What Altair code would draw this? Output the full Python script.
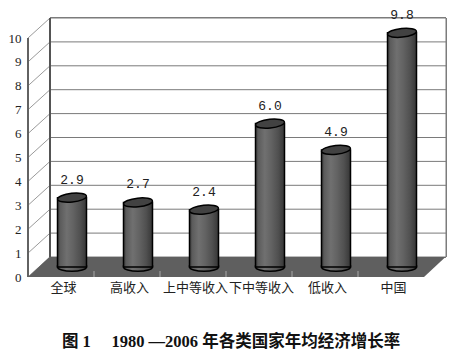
import json
import altair as alt
import pandas as pd

# ---- data ----
categories = ["全球", "高收入", "上中等收入", "下中等收入", "低收入", "中国"]
values = [2.9, 2.7, 2.4, 6.0, 4.9, 9.8]
y_ticks = list(range(0, 11))
title_text = "图 1　 1980 —2006 年各类国家年均经济增长率"

# ---- layout constants (pixels) ----
W, H = 406, 239          # front-plane plot size
DX, DY = 22, -20         # depth offset of the back wall
N = len(categories)
YMAX = 10

df = pd.DataFrame({"cat": categories, "value": values,
                   "pos": [i + 0.5 for i in range(N)]})
back_grid = pd.DataFrame({"v": y_ticks[1:-1]})
side_grid = pd.DataFrame({"v": y_ticks})
bounds = pd.DataFrame({"b": list(range(1, N))})

# floor parallelogram expressed in scale units
dxu = DX / (W / N)
dyu = -DY / (H / YMAX)
floor = pd.DataFrame({"fx": [0, dxu, N, N + dxu],
                      "lo": [0, 0, 0, dyu],
                      "hi": [0, dyu, dyu, dyu]})

xs = alt.Scale(domain=[0, N], nice=False, zero=False)
ys = alt.Scale(domain=[0, YMAX], nice=False, zero=False)

label_expr = json.dumps(categories, ensure_ascii=False) + "[floor(datum.value)]"
x_axis = alt.Axis(values=[i + 0.5 for i in range(N)], labelExpr=label_expr,
                  ticks=False, domain=False, grid=False, title=None,
                  labelFont="Noto Sans CJK SC", labelFontSize=13,
                  labelColor="#222222", labelPadding=4, labelOffset=2,
                  labelFlush=False, labelOverlap=False)
y_axis = alt.Axis(values=y_ticks, ticks=False, domain=False, grid=False,
                  title=None, labelFont="Liberation Serif", labelFontSize=13,
                  labelColor="#222222", labelPadding=2, labelFlush=False,
                  labelOverlap=False)


def X(field=None, datum=None):
    if datum is not None:
        return alt.X(datum=datum, type="quantitative", scale=xs, axis=x_axis)
    return alt.X(field, type="quantitative", scale=xs, axis=x_axis)


def Y(field=None, datum=None):
    if datum is not None:
        return alt.Y(datum=datum, type="quantitative", scale=ys, axis=y_axis)
    return alt.Y(field, type="quantitative", scale=ys, axis=y_axis)


grad = alt.Gradient(
    gradient="linear", x1=0, x2=1, y1=0, y2=0,
    stops=[alt.GradientStop(offset=0.0, color="#3a3a3a"),
           alt.GradientStop(offset=0.1, color="#5c5c5c"),
           alt.GradientStop(offset=0.32, color="#707070"),
           alt.GradientStop(offset=0.55, color="#626262"),
           alt.GradientStop(offset=0.78, color="#505050"),
           alt.GradientStop(offset=1.0, color="#363636")])

base = alt.Chart(df)

back_wall = alt.Chart(df).mark_rect(
    fill="white", stroke="#7a7a7a", strokeWidth=1,
    xOffset=DX, x2Offset=DX, yOffset=DY, y2Offset=DY
).encode(x=X(datum=0), x2=alt.X2(datum=N), y=Y(datum=0), y2=alt.Y2(datum=YMAX))

back_lines = alt.Chart(back_grid).mark_rule(
    color="#7a7a7a", strokeWidth=1, xOffset=DX, x2Offset=DX, yOffset=DY
).encode(x=X(datum=0), x2=alt.X2(datum=N), y=Y("v"))

side_lines = alt.Chart(side_grid).mark_rule(
    color="#9a9a9a", strokeWidth=1, x2Offset=DX, y2Offset=DY
).encode(x=X(datum=0), x2=alt.X2(datum=0), y=Y("v"), y2=alt.Y2("v"))

back_edge = alt.Chart(df).mark_rule(
    color="#555555", strokeWidth=1.5, xOffset=DX, yOffset=DY, y2Offset=DY
).encode(x=X(datum=0), y=Y(datum=0), y2=alt.Y2(datum=YMAX))

floor_area = alt.Chart(floor).mark_area(
    color="#5f5f5f", interpolate="linear", opacity=1
).encode(x=X("fx"), y=Y("hi"), y2=alt.Y2("lo"))

floor_ticks = alt.Chart(bounds).mark_rule(
    color="#a8a8a8", strokeWidth=1, y2Offset=-6
).encode(x=X("b"), y=Y(datum=0), y2=alt.Y2(datum=0))

front_axis = alt.Chart(df).mark_rule(
    color="#606060", strokeWidth=1
).encode(x=X(datum=0), y=Y(datum=0), y2=alt.Y2(datum=YMAX))

bottom_path = "M -1 -0.12 L -1 0 A 1 0.3 0 0 0 1 0 L 1 -0.12"
bar_bottom = base.mark_point(
    shape=bottom_path, size=841, filled=True, fill=grad, stroke="black",
    strokeWidth=1.5, opacity=1, xOffset=DX / 2, yOffset=DY / 2
).encode(x=X("pos"), y=Y(datum=0))

bars = base.mark_bar(
    fill=grad, stroke="black", strokeWidth=1.5, size=29,
    xOffset=DX / 2, yOffset=DY / 2, y2Offset=DY / 2
).encode(x=X("pos"), y=Y("value"), y2=alt.Y2(datum=0))

top_path = "M -1 0 A 1 0.3 0 1 1 1 0 A 1 0.3 0 1 1 -1 0 Z"
bar_top = base.mark_point(
    shape=top_path, size=841, filled=True, fill="#424242", stroke="black",
    strokeWidth=1.5, opacity=1, angle=354, xOffset=DX / 2, yOffset=DY / 2
).encode(x=X("pos"), y=Y("value"))

value_labels = base.mark_text(
    font="Liberation Mono", fontSize=13, color="#222222", baseline="middle",
    xOffset=DX / 2, yOffset=DY / 2 - 18
).encode(x=X("pos"), y=Y("value"), text=alt.Text("value:Q", format=".1f"))

chart = alt.layer(
    back_wall, back_lines, side_lines, back_edge, floor_area, floor_ticks,
    front_axis, bar_bottom, bars, bar_top, value_labels
).properties(
    width=W, height=H,
    autosize="none",
    padding={"left": 15, "top": 30, "right": 22, "bottom": 74},
    background="white",
    title=alt.TitleParams(
        text=title_text, orient="bottom", anchor="middle",
        font="Liberation Serif, Noto Sans CJK SC", fontSize=16.5,
        fontWeight="bold", color="#111111", offset=40, dx=5),
).configure_view(stroke=None)

chart.save("out.html", embed_options={"renderer": "svg", "actions": False})
